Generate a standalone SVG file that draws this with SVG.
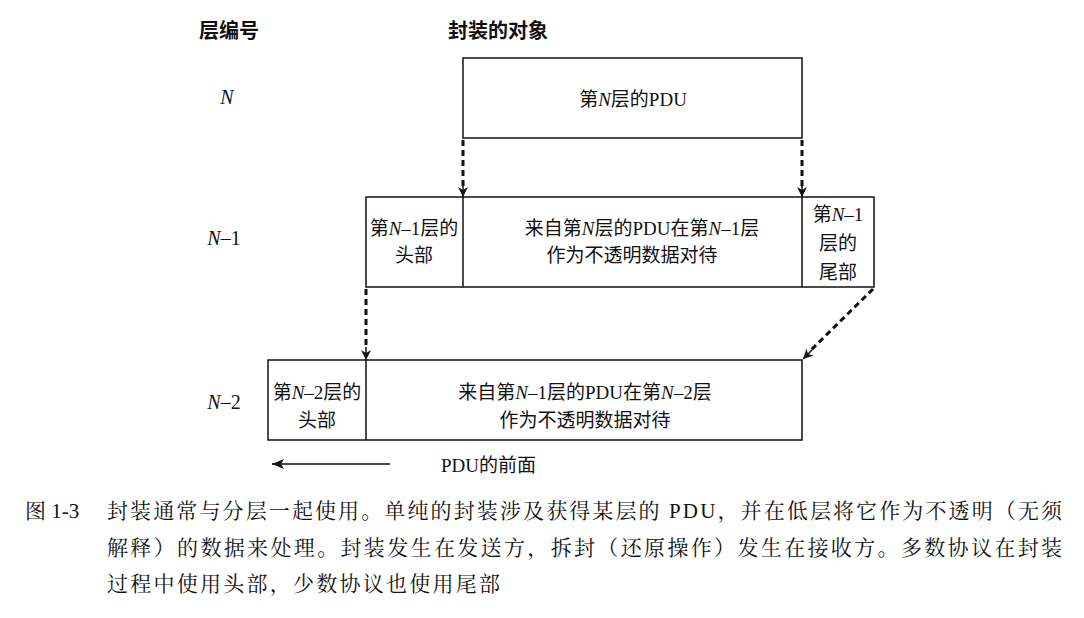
<svg xmlns="http://www.w3.org/2000/svg" width="1084" height="618" viewBox="0 0 1084 618">
<defs>
<marker id="ah" viewBox="0 0 10 10" refX="10" refY="5" markerWidth="10" markerHeight="10" markerUnits="userSpaceOnUse" orient="auto">
<path d="M0,0 L10,5 L0,10 L3,5 Z" fill="#111"/>
</marker>
<marker id="ah2" viewBox="0 0 12 10" refX="0" refY="5" markerWidth="12" markerHeight="10" markerUnits="userSpaceOnUse" orient="auto">
<path d="M0,5 L12,0 L9,5 L12,10 Z" fill="#111"/>
</marker>
<style>
.box{fill:#fff;stroke:#111;stroke-width:1.5}
.div{stroke:#111;stroke-width:1.5}
.lbl{font-family:"Liberation Serif","Noto Sans CJK SC",serif;font-size:20px;fill:#111;text-anchor:middle}
.cj{font-family:"Liberation Serif","Noto Sans CJK SC",sans-serif;font-size:19px;font-weight:normal;fill:#111}
.it{font-family:"Liberation Serif",serif;font-style:italic}
.dash{stroke:#111;stroke-width:3;stroke-dasharray:6 4;fill:none}
.cap{font-family:"Liberation Serif","Noto Serif CJK SC","Noto Sans CJK SC",serif;font-size:21px;fill:#111}
.hd{font-family:"Noto Sans CJK SC",sans-serif;font-size:20px;font-weight:bold;fill:#111}
</style>
</defs>

<g id="headings">
<text class="hd" x="229" y="38" text-anchor="middle">层编号</text>
<text class="hd" x="498" y="38" text-anchor="middle">封装的对象</text>
</g>

<g id="layer-labels">
<text class="lbl" x="227" y="104"><tspan class="it">N</tspan></text>
<text class="lbl" x="224" y="245"><tspan class="it">N</tspan>–1</text>
<text class="lbl" x="224" y="409"><tspan class="it">N</tspan>–2</text>
</g>

<g id="node-n">
<rect class="box" x="463" y="58" width="339" height="80"/>
<text class="cj" x="633" y="106" text-anchor="middle">第<tspan class="it">N</tspan>层的PDU</text>
</g>

<g id="node-n1">
<rect class="box" x="366" y="197" width="508" height="90"/>
<line class="div" x1="463" y1="197" x2="463" y2="287"/>
<line class="div" x1="802" y1="197" x2="802" y2="287"/>
<text class="cj" x="414" y="235" text-anchor="middle">第<tspan class="it">N</tspan>–1层的</text>
<text class="cj" x="414" y="262" text-anchor="middle">头部</text>
<text class="cj" x="642" y="235" text-anchor="middle">来自第<tspan class="it">N</tspan>层的PDU在第<tspan class="it">N</tspan>–1层</text>
<text class="cj" x="632" y="262" text-anchor="middle">作为不透明数据对待</text>
<text class="cj" x="838" y="221" text-anchor="middle">第<tspan class="it">N</tspan>–1</text>
<text class="cj" x="838" y="250" text-anchor="middle">层的</text>
<text class="cj" x="838" y="279" text-anchor="middle">尾部</text>
</g>

<g id="node-n2">
<rect class="box" x="268" y="360" width="534" height="80"/>
<line class="div" x1="366" y1="360" x2="366" y2="440"/>
<text class="cj" x="317" y="399" text-anchor="middle">第<tspan class="it">N</tspan>–2层的</text>
<text class="cj" x="317" y="427" text-anchor="middle">头部</text>
<text class="cj" x="585" y="399" text-anchor="middle">来自第<tspan class="it">N</tspan>–1层的PDU在第<tspan class="it">N</tspan>–2层</text>
<text class="cj" x="585" y="427" text-anchor="middle">作为不透明数据对待</text>
</g>

<g id="connectors">
<line class="dash" x1="463" y1="140" x2="463" y2="186"/>
<line x1="463" y1="184" x2="463" y2="197" stroke="#111" stroke-width="1.5" marker-end="url(#ah)"/>
<line class="dash" x1="802" y1="140" x2="802" y2="186"/>
<line x1="802" y1="184" x2="802" y2="197" stroke="#111" stroke-width="1.5" marker-end="url(#ah)"/>
<line class="dash" x1="366" y1="289" x2="366" y2="349"/>
<line x1="366" y1="347" x2="366" y2="360" stroke="#111" stroke-width="1.5" marker-end="url(#ah)"/>
<line class="dash" x1="873" y1="289" x2="810" y2="351"/>
<line x1="812" y1="350" x2="803" y2="359" stroke="#111" stroke-width="1.5" marker-end="url(#ah)"/>
<line x1="272" y1="464" x2="390" y2="464" stroke="#111" stroke-width="1.5" marker-start="url(#ah2)"/>
<text class="cj" x="441" y="472">PDU的前面</text>
</g>

<g id="caption">
<text class="cap" x="25" y="518">图 1-3</text>
<text class="cap" x="107" y="518" textLength="955" lengthAdjust="spacing">封装通常与分层一起使用。单纯的封装涉及获得某层的 PDU，并在低层将它作为不透明（无须</text>
<text class="cap" x="107" y="555" textLength="955" lengthAdjust="spacing">解释）的数据来处理。封装发生在发送方，拆封（还原操作）发生在接收方。多数协议在封装</text>
<text class="cap" x="107" y="591" textLength="393" lengthAdjust="spacing">过程中使用头部，少数协议也使用尾部</text>
</g>
</svg>
